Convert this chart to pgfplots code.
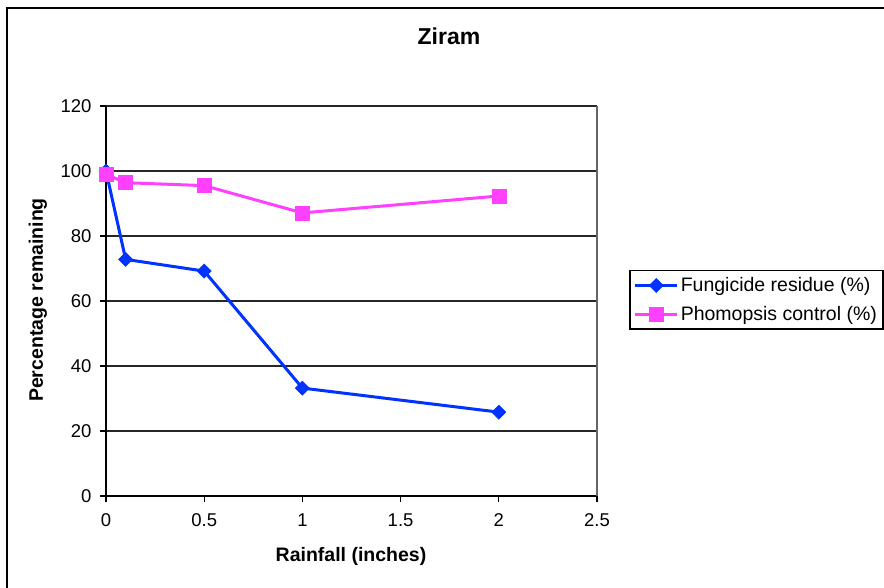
\documentclass[border=0pt]{standalone}
\usepackage{pgfplots}
\pgfplotsset{compat=1.18}
\usepackage{fontspec}
\setmainfont{Liberation Sans}
\definecolor{fblue}{RGB}{0,51,255}
\definecolor{fpink}{RGB}{255,64,255}
\begin{document}
\begin{tikzpicture}[x=1pt,y=1pt]
\useasboundingbox (0,0) rectangle (884,588);
\draw[line width=2pt,black] (7,-20) -- (7,580) -- (920,580);
\begin{axis}[
  at={(106pt,92pt)}, anchor=south west,
  scale only axis, width=491pt, height=390pt,
  xmin=0, xmax=2.5, ymin=0, ymax=120,
  xtick={0,0.5,1,1.5,2,2.5}, ytick={0,20,...,120},
  axis x line*=bottom, axis y line*=left,
  ymajorgrids, major grid style={line width=1.5pt, black!85},
  tick align=outside, major tick length=6pt,
  tick style={line width=1.2pt, black},
  axis line style={line width=1.5pt, black},
  x tick label style={font=\fontsize{18.5}{21}\selectfont, yshift=-8pt},
  y tick label style={font=\fontsize{18.5}{21}\selectfont, xshift=-5pt},
  /pgf/number format/assume math mode=true,
  xticklabel={\pgfmathprintnumber[fixed,precision=1]{\tick}},
  xlabel={\bfseries Rainfall (inches)},
  xlabel style={font=\fontsize{19.5}{22}\selectfont, at={(axis description cs:0.499,-0.156)}, anchor=center},
  ylabel={\bfseries Percentage remaining},
  ylabel style={font=\fontsize{19.5}{22}\selectfont, at={(axis description cs:-0.1385,0.5026)}, anchor=center},
  title={\bfseries Ziram},
  title style={font=\fontsize{23}{26}\selectfont, at={(axis description cs:0.6986,1.164)}, anchor=center},
  legend style={at={(axis description cs:1.0652,0.5795)}, anchor=north west,
    draw=black, line width=1.5pt, font=\fontsize{19.5}{22}\selectfont,
    inner xsep=4pt, inner ysep=5pt, row sep=9pt, cells={anchor=west}},
  legend image code/.code={\draw[mark repeat=2,mark phase=2] plot coordinates {(0pt,0pt) (21pt,0pt) (42pt,0pt)};},
  clip=false,
]
\draw[line width=1.5pt, black!60] (axis cs:2.5,0) -- (axis cs:2.5,120);
\addplot[color=fblue, line width=3pt, mark=square*, mark size=5pt, mark options={rotate=45, line width=0.5pt, fill=fblue}]
  coordinates {(0,100) (0.1,72.8) (0.5,69.2) (1,33.2) (2,25.8)};
\addlegendentry{Fungicide residue (\%)}
\addplot[color=fpink, line width=3pt, mark=square*, mark size=7pt, mark options={line width=0.5pt, fill=fpink}]
  coordinates {(0,99) (0.1,96.4) (0.5,95.5) (1,87.1) (2,92.3)};
\addlegendentry{Phomopsis control (\%)}
\end{axis}
\end{tikzpicture}
\end{document}
